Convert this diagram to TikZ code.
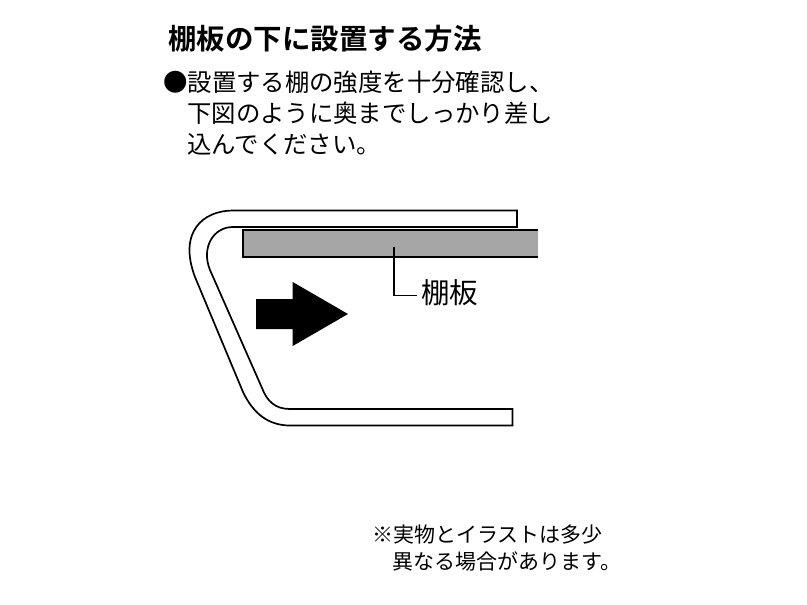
\documentclass[tikz,border=0pt]{standalone}
\usepackage{fontspec}
\newfontfamily\cjk{Noto Sans CJK JP}
\newfontfamily\cjkb{Noto Sans CJK JP Bold}
\tikzset{
  txt/.style={inner sep=0pt,anchor=west,text=black},
  titletxt/.style={txt,font=\cjkb\fontsize{28.5}{28.5}\selectfont},
  bodytxt/.style={txt,font=\cjk\fontsize{24.4}{24.4}\selectfont},
  labeltxt/.style={txt,font=\cjk\fontsize{28.5}{28.5}\selectfont},
  notetxt/.style={txt,font=\cjk\fontsize{21}{21}\selectfont},
  outline/.style={draw=black,line width=1.7pt,line join=miter},
}
\definecolor{boardgray}{HTML}{A6A6A6}
\begin{document}
\begin{tikzpicture}[x=1pt,y=-1pt]
\useasboundingbox (0,0) rectangle (807,605);
% title and body
\node[titletxt] (title) at (168,39) {棚板の下に設置する方法};
\node[bodytxt] (l1) at (163,82) {●設置する棚の強度を十分確認し、};
\node[bodytxt] (l2) at (187,113) {下図のように奥までしっかり差し};
\node[bodytxt] (l3) at (187,144) {込んでください。};
% shelf board
\fill[boardgray] (243,230) rectangle (538,257);
\draw[outline] (538,230) -- (243,230) -- (243,257) -- (538,257);
% bracket
\draw[outline,fill=white] (517,210.5) -- (233,210.5)
  .. controls (203,210.5) and (178,232) .. (195,277)
  -- (243,392)
  .. controls (253,413) and (268,425.5) .. (290,425.5)
  -- (512.5,425.5) -- (512.5,409) -- (290,409)
  .. controls (275,409) and (267,401) .. (262,388)
  -- (210,270)
  .. controls (201,248) and (213,227) .. (233,227)
  -- (517,227) -- cycle;
% arrow
\fill[black] (256,299) -- (292.7,299) -- (292.7,282) -- (348,314) -- (292.7,346) -- (292.7,329) -- (256,329) -- cycle;
% leader and label
\node[labeltxt] (lab) at (421,293) {棚板};
\coordinate (lstart) at (394,246.5);
\coordinate (lcorner) at (394,295.5);
\coordinate (lend) at (416.5,295.5);
\draw[black,line width=1.5pt] (lstart) -- (lcorner) -- (lend);
% note
\node[notetxt] (n1) at (372,535) {※実物とイラストは多少};
\node[notetxt] (n2) at (392,561) {異なる場合があります。};
\end{tikzpicture}
\end{document}
